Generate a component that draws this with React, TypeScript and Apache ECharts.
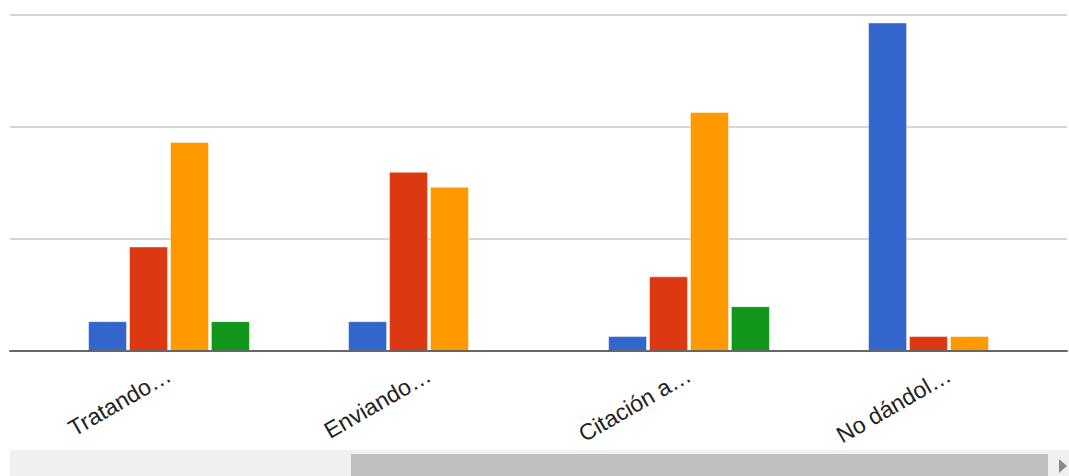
import React, { useEffect, useRef } from "react";
import * as echarts from "echarts";

const categories = ["Tratando…", "Enviando…", "Citación a…", "No dándol…"];
const seriesNames = ["Serie 1", "Serie 2", "Serie 3", "Serie 4"];
const seriesColors = ["#3366cc", "#dc3912", "#ff9900", "#109618"];
const blueValues = [2, 2, 1, 22];
const redValues = [7, 12, 5, 1];
const orangeValues = [14, 11, 16, 1];
const greenValues = [2, 0, 3, 0];
const axisMax = 22.5;
const axisInterval = 7.5;

export default function App() {
  const ref = useRef<HTMLDivElement>(null);
  useEffect(() => {
    if (!ref.current) return;
    const chart = echarts.init(ref.current, undefined, { renderer: "svg" });
    const values = [blueValues, redValues, orangeValues, greenValues];
    chart.setOption({
      animation: false,
      backgroundColor: "#ffffff",
      grid: [
        { left: 10, width: 1057, top: 15, height: 336 },
        { left: 39, width: 1040, top: 15, height: 336 },
      ],
      xAxis: [
        {
          type: "category",
          gridIndex: 0,
          data: categories,
          axisLine: { show: true, lineStyle: { color: "#666666", width: 2 } },
          axisTick: { show: false },
          axisLabel: { show: false },
          z: 5,
        },
        {
          type: "category",
          gridIndex: 1,
          data: categories,
          axisLine: { show: false },
          axisTick: { show: false },
          axisLabel: {
            rotate: 30,
            margin: 22,
            fontSize: 23,
            fontFamily: "Liberation Sans, Arial, sans-serif",
            color: "#222222",
          },
        },
      ],
      yAxis: [
        {
          type: "value",
          gridIndex: 0,
          min: 0,
          max: axisMax,
          interval: axisInterval,
          axisLabel: { show: false },
          axisLine: { show: false },
          axisTick: { show: false },
          splitLine: { lineStyle: { color: "#d6d6d6", width: 2 } },
        },
        {
          type: "value",
          gridIndex: 1,
          min: 0,
          max: axisMax,
          interval: axisInterval,
          show: false,
          splitLine: { show: false },
        },
      ],
      series: values.map((v, i) => ({
        name: seriesNames[i],
        type: "bar",
        xAxisIndex: 1,
        yAxisIndex: 1,
        data: v,
        barWidth: 39,
        barGap: "5%",
        itemStyle: {
          color: seriesColors[i],
          borderColor: "rgba(255,255,255,0.45)",
          borderWidth: 1,
        },
        z: 3,
      })),
      graphic: [
        {
          type: "rect",
          shape: { x: 10, y: 450, width: 1059, height: 26 },
          style: { fill: "#f0f0f0" },
          silent: true,
        },
        {
          type: "rect",
          shape: { x: 351, y: 454, width: 697, height: 22 },
          style: { fill: "#c0c0c0" },
          silent: true,
        },
        {
          type: "polygon",
          shape: { points: [[1059, 459], [1059, 473], [1067, 466]] },
          style: { fill: "#8a8a8a" },
          silent: true,
        },
      ],
    });
    return () => chart.dispose();
  }, []);
  return (
    <div
      style={{
        position: "fixed",
        left: 0,
        top: 0,
        width: 1069,
        height: 476,
        overflow: "hidden",
      }}
    >
      <div ref={ref} style={{ width: 1080, height: 476 }} />
    </div>
  );
}
